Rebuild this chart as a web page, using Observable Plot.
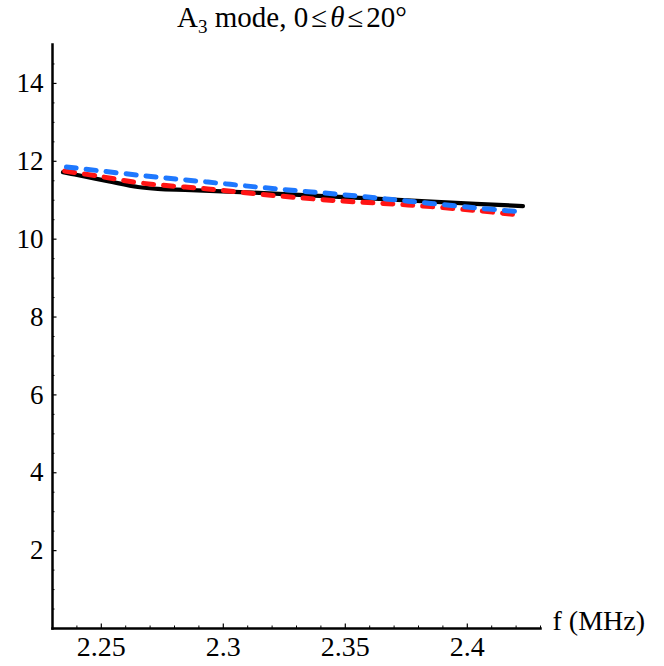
<!DOCTYPE html>
<html>
<head>
<meta charset="utf-8">
<script src="https://cdn.jsdelivr.net/npm/d3@7"></script>
<script src="https://cdn.jsdelivr.net/npm/@observablehq/plot@0.6"></script>
<style>
  html, body { margin: 0; padding: 0; background: #fff; }
  #wrap { position: relative; width: 664px; height: 666px; }
  #title { position: absolute; left: 0; top: 0; width: 584px; text-align: center;
           font-family: 'Liberation Serif'; font-size: 29px; line-height: 34px; }
  #title sub { font-size: 19px; vertical-align: baseline; position: relative; top: 6px; }
  #title .op { padding: 0 3px; }
</style>
</head>
<body>
<div id="wrap">
  <div id="title">A<sub>3</sub> mode, 0<span class="op">≤</span><i>θ</i><span class="op">≤</span>20°</div>
  <div id="chart"></div>
</div>
<script>
// Black solid curve
const blackF = [2.2343, 2.2391, 2.2527, 2.2650, 2.2732, 2.2869, 2.3210, 2.3620, 2.3893, 2.4228];
const blackV = [11.72, 11.66, 11.49, 11.34, 11.29, 11.26, 11.17, 11.04, 10.95, 10.85];
// Blue dashed curve
const blueF = [2.2357, 2.2664, 2.2937, 2.3210, 2.3484, 2.3757, 2.4030, 2.4194];
const blueV = [11.83, 11.61, 11.44, 11.27, 11.12, 10.95, 10.78, 10.69];
// Red dashed curve
const redF = [2.2350, 2.2486, 2.2664, 2.2937, 2.3210, 2.3484, 2.3757, 2.4030, 2.4201];
const redV = [11.75, 11.62, 11.44, 11.29, 11.12, 10.98, 10.88, 10.74, 10.63];

const xMajor = [2.25, 2.3, 2.35, 2.4];
const xMajorLabels = ["2.25", "2.3", "2.35", "2.4"];
const xMinor = [2.24, 2.26, 2.27, 2.28, 2.29, 2.31, 2.32, 2.33, 2.34, 2.36, 2.37, 2.38, 2.39, 2.41, 2.42, 2.43];
const yMajor = [2, 4, 6, 8, 10, 12, 14];
const yMinor = [0.5, 1, 1.5, 2.5, 3, 3.5, 4.5, 5, 5.5, 6.5, 7, 7.5, 8.5, 9, 9.5, 10.5, 11, 11.5, 12.5, 13, 13.5, 14.5];
const xLabel = "f (MHz)";

const zip = (xs, ys) => xs.map((x, i) => ({x, y: ys[i]}));
const black = zip(blackF, blackV);
const blue = zip(blueF, blueV);
const red = zip(redF, redV);

const W = 664, H = 666;
const mL = 52, mR = 124, mT = 44, mB = 38;
const font = "Liberation Serif";

const chart = Plot.plot({
  width: W, height: H,
  marginLeft: mL, marginRight: mR, marginTop: mT, marginBottom: mB,
  style: {background: "white", overflow: "visible"},
  x: {domain: [2.23, 2.43]},
  y: {domain: [0, 15]},
  marks: [
    // minor ticks (inward)
    Plot.tickX(xMinor, {x: d => d, insetTop: H - mT - mB - 2.5, stroke: "black", strokeWidth: 1}),
    Plot.tickY(yMinor, {y: d => d, insetRight: W - mL - mR - 2.5, stroke: "black", strokeWidth: 1}),
    // major ticks (inward)
    Plot.tickX(xMajor, {x: d => d, insetTop: H - mT - mB - 4.5, stroke: "black", strokeWidth: 1.2}),
    Plot.tickY(yMajor, {y: d => d, insetRight: W - mL - mR - 4.5, stroke: "black", strokeWidth: 1.2}),
    // tick labels
    Plot.axisX(xMajor, {tickSize: 0, tickPadding: 8, tickFormat: (d, i) => xMajorLabels[i], fontSize: 28, label: null, fill: "black"}),
    Plot.axisY(yMajor, {tickSize: 0, tickPadding: 9, fontSize: 27, label: null, fill: "black"}),
    // curves
    Plot.line(black, {x: "x", y: "y", stroke: "black", strokeWidth: 4.2, curve: "catmull-rom", strokeLinecap: "round"}),
    Plot.line(red, {x: "x", y: "y", stroke: "#ff1414", strokeWidth: 5, strokeDasharray: "10,10", strokeLinecap: "round", curve: "catmull-rom"}),
    Plot.line(blue, {x: "x", y: "y", stroke: "#1e78ff", strokeWidth: 5, strokeDasharray: "10,10", strokeLinecap: "round", curve: "catmull-rom", dy: -1}),
    // axis lines
    Plot.frame({anchor: "left", stroke: "black", strokeWidth: 2.5}),
    Plot.frame({anchor: "bottom", stroke: "black", strokeWidth: 2.5}),
    // x axis label
    Plot.text([xLabel], {frameAnchor: "bottom-right", text: d => d, textAnchor: "start", dx: 12, dy: 1, fontSize: 28, fill: "black"})
  ]
});
// force serif font on every text of the chart
d3.select(chart).attr("font-family", font).style("font-family", font);
d3.select(chart).selectAll("g").attr("font-family", null);
d3.select(chart).selectAll("text").attr("font-family", font).style("font-family", font);
document.getElementById("chart").appendChild(chart);
</script>
</body>
</html>
